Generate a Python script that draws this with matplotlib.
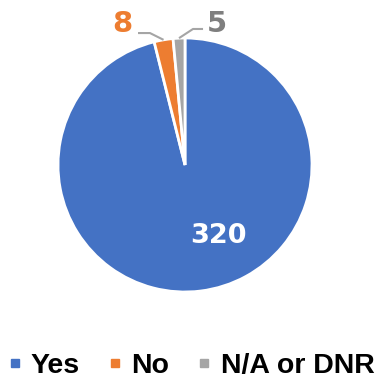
import numpy as np
import matplotlib
matplotlib.use('Agg')
import matplotlib.pyplot as plt
from matplotlib.lines import Line2D

labels = ['Yes', 'No', 'N/A or DNR']
values = [320, 8, 5]
colors = ['#4472C4', '#ED7D31', '#A5A5A5']
label_colors = ['white', '#ED7D31', '#7F7F7F']

fig = plt.figure(figsize=(3.75, 3.81), dpi=100)
# pie centre ~ (185, 165) px, radius ~127 px
ax = fig.add_axes([(185 - 127) / 375, (381 - 165 - 127) / 381, 254 / 375, 254 / 381])
ax.set_aspect('equal')
ax.axis('off')

wedges, _ = ax.pie(values, colors=colors, startangle=90, counterclock=False,
                   radius=1, wedgeprops=dict(edgecolor='white', linewidth=2),
                   frame=False)
ax.set_xlim(-1, 1)
ax.set_ylim(-1, 1)

mids = [np.deg2rad((w.theta1 + w.theta2) / 2) for w in wedges]
num_font = dict(fontweight='bold', family='DejaVu Sans')

# big value inside the Yes slice
ax.text(0.26, -0.56, str(values[0]), color=label_colors[0], fontsize=19.5,
        ha='center', va='center', **num_font)

# small slices: labels outside with leader lines
txt_pos = [None, (-0.49, 1.11), (0.25, 1.11)]
elbows = [None, [(-0.37, 1.039), (-0.276, 1.039)], [(0.142, 1.071), (0.063, 1.071)]]
for i in (1, 2):
    ex, ey = np.cos(mids[i]), np.sin(mids[i])
    pts = elbows[i] + [(ex, ey)]
    xs, ys = zip(*pts)
    ax.plot(xs, ys, color='#A5A5A5', lw=1.5, clip_on=False, solid_capstyle='butt')
    ax.text(txt_pos[i][0], txt_pos[i][1], str(values[i]), color=label_colors[i],
            fontsize=21, ha='center', va='center', clip_on=False, **num_font)

handles = [Line2D([], [], marker='s', linestyle='none', markersize=6,
                  markerfacecolor=c, markeredgecolor=c) for c in colors]
fig.legend(handles, labels, loc='center', bbox_to_anchor=(0.51, 0.04), ncol=3,
           frameon=False, handlelength=0.45, handletextpad=0.35, columnspacing=1.0,
           borderaxespad=0, borderpad=0,
           prop=dict(family='Liberation Sans', weight='bold', size=20.5))

fig.savefig('out.png', dpi=100)
